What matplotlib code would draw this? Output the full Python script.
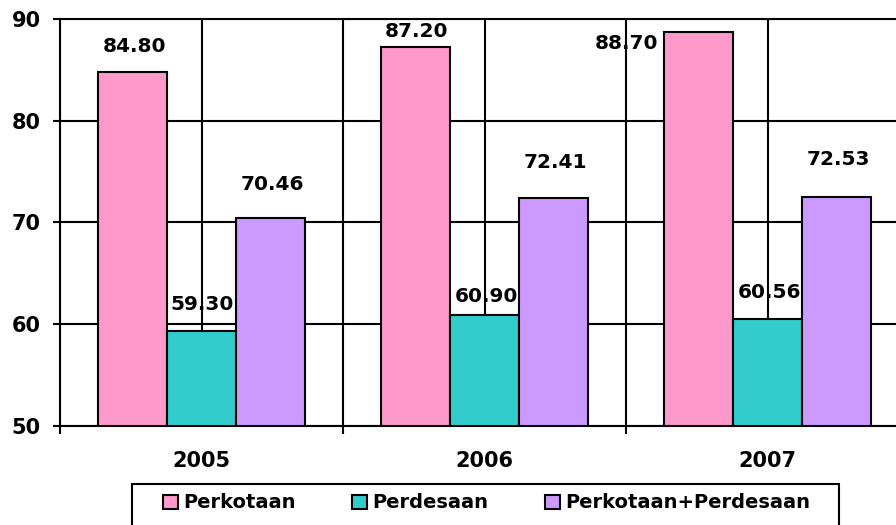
import matplotlib.pyplot as plt
import numpy as np
from matplotlib.patches import Rectangle

# datos
tahun = ['2005', '2006', '2007']
perkotaan = [84.80, 87.20, 88.70]
perdesaan = [59.30, 60.90, 60.56]
gabungan = [70.46, 72.41, 72.53]
seri = ['Perkotaan', 'Perdesaan', 'Perkotaan+Perdesaan']

warna = ['#FF99CC', '#33CCCC', '#CC99FF']
# desplazamiento de cada etiqueta (px): (dx, dy) del centro del texto sobre la barra
geser = [[(2, 25), (1, 16), (-72, -11)],
         [(1, 27), (2, 19), (2, 26)],
         [(2, 33), (2, 35), (2, 37)]]

plt.rcParams['font.family'] = 'DejaVu Sans'
plt.rcParams['font.weight'] = 'bold'

fig = plt.figure(figsize=(8.96, 5.25), dpi=100)
# el area del grafico sigue mas alla del borde derecho, como en la original
ax = fig.add_axes([60 / 896, 99 / 525, 849 / 896, 407 / 525])

x = np.arange(len(tahun))
lebar = 0.244
valores = [perkotaan, perdesaan, gabungan]
px = 72 / 100
for i, (vals, c) in enumerate(zip(valores, warna)):
    pos = x + (i - 1) * lebar
    ax.bar(pos, np.array(vals) - 50, lebar, bottom=50, color=c,
           edgecolor='black', linewidth=1.5, label=seri[i], zorder=3)
    for j, v in enumerate(vals):
        dx, dy = geser[i][j]
        ax.annotate(f'{v:.2f}', (pos[j], v), xytext=(dx * px, dy * px),
                    textcoords='offset points', ha='center', va='center',
                    fontsize=14.5, fontweight='bold', zorder=4)

ax.set_xlim(-0.5, 2.5)
ax.set_ylim(50, 90)
ax.set_yticks([50, 60, 70, 80, 90])
ax.set_xticks(x)
ax.set_xticklabels(tahun)
ax.set_xticks([-0.5, 0.5, 1.5, 2.5], minor=True)
ax.tick_params(axis='x', which='major', length=0, pad=18, labelsize=15)
ax.tick_params(axis='x', which='minor', length=6, width=1.5, direction='out')
ax.tick_params(axis='y', length=5, width=1.5, pad=9, labelsize=15)

ax.set_axisbelow(True)
ax.grid(axis='y', color='black', linewidth=1.5)
for xv in np.arange(-0.5, 2.6, 0.5):
    ax.axvline(xv, color='black', linewidth=1.5, zorder=1)
for s in ax.spines.values():
    s.set_linewidth(1.5)

# marco de la leyenda dibujado a mano (se corta por abajo)
fig.patches.append(Rectangle((132 / 896, -0.05), (839 - 132) / 896,
                             0.05 + 1 - 484 / 525, transform=fig.transFigure,
                             facecolor='white', edgecolor='black', linewidth=1.5))
leg = fig.legend(loc='center left', bbox_to_anchor=(163 / 896, 1 - 503 / 525),
                 ncol=3, frameon=False,
                 prop={'size': 14, 'weight': 'bold'}, handlelength=0.75,
                 handleheight=0.75, handletextpad=0.3, columnspacing=2.9,
                 borderpad=0, borderaxespad=0)

fig.savefig('out.png', dpi=100)
